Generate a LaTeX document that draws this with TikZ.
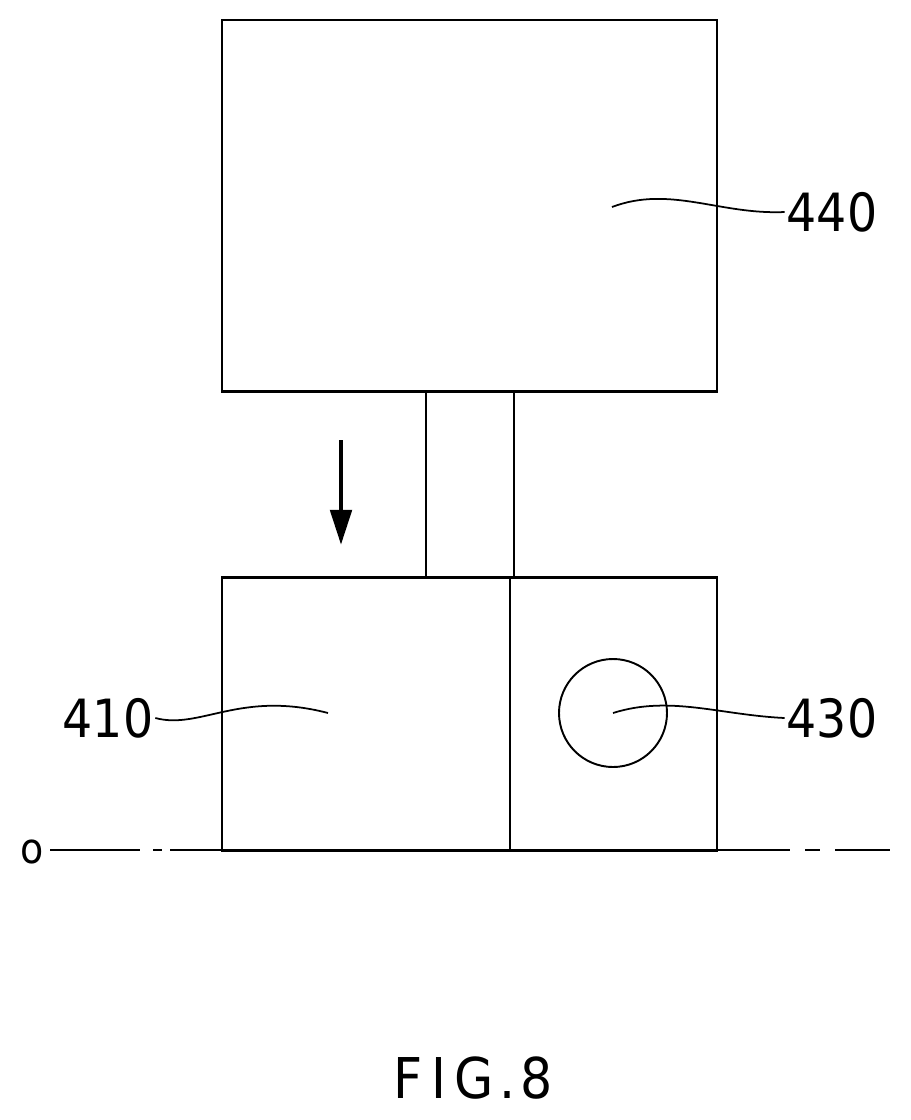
\documentclass[tikz,border=0pt]{standalone}
\usepackage{fontspec}
\setmainfont{DejaVu Sans Condensed}
\usetikzlibrary{arrows.meta,positioning}
\tikzset{
    part/.style={draw, line width=1.7pt},
    label/.style={font=\fontsize{30}{30}\selectfont, inner sep=1pt},
    leader/.style={line width=1pt}
}
\begin{document}
\begin{tikzpicture}[x=0.02cm, y=-0.02cm]
    \useasboundingbox (0,0) rectangle (911,1120);
    % housing and block
    \draw[part] (222,20) rectangle (717,391);
    \draw[part] (222,577) rectangle (717,850);
    \draw[part] (510,577) -- (510,850);
    \draw[part] (426,391) -- (426,577);
    \draw[part] (514,391) -- (514,577);
    \draw[line width=1.1pt] (613,713) circle (54);
    % motion arrow
    \coordinate (arrtop) at (341,440);
    \coordinate (arrbot) at (341,545);
    \draw[line width=2.8pt, -{Triangle[length=20pt,width=12pt]}] (arrtop) -- (arrbot);
    % axis O
    \node[label, font=\fontsize{24}{24}\selectfont] (axis) at (32,852) {o};
    \coordinate (axl) at (50,850);
    \coordinate (axr) at (890,850);
    \draw[line width=1.1pt] (axl) -- (140,850) (153,850) -- (162,850) (170,850) -- (222,850);
    \draw[line width=1.1pt] (717,850) -- (790,850) (805,850) -- (820,850) (835,850) -- (axr);
    % labels
    \node[label] (n440) at (832,212) {440};
    \node[label] (n410) at (108,718) {410};
    \node[label] (n430) at (832,718) {430};
    \draw[leader] (612,207) .. controls (670,185) and (720,215) .. (n440.west);
    \draw[leader] (n410.east) .. controls (200,730) and (240,690) .. (328,713);
    \draw[leader] (613,713) .. controls (670,695) and (720,715) .. (n430.west);
    \node[label, font=\fontsize{32}{32}\selectfont] (fig) at (473,1078) {F\hspace{5pt}I\hspace{5pt}G\hspace{3pt}.\hspace{3pt}8};
\end{tikzpicture}
\end{document}
